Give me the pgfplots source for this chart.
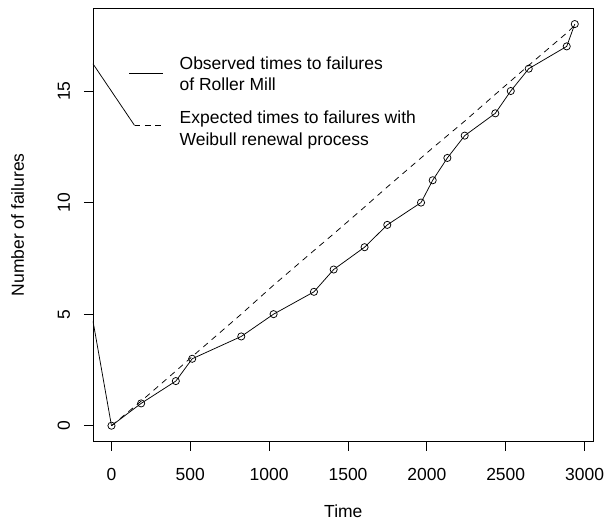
\documentclass[border=0pt]{standalone}
\usepackage{fontspec}
\setmainfont{Liberation Sans}
\usepackage{pgfplots}
\usepackage{pgfplotstable}
\pgfplotsset{compat=1.18}

% Cumulative failures of the roller mill at each observed failure time
\pgfplotstableread{
t     n
0     0
188   1
408   2
512   3
823   4
1028  5
1284  6
1409  7
1605  8
1749  9
1963  10
2037  11
2130  12
2240  13
2434  14
2532  15
2646  16
2887  17
2938  18
}\observed

% Expected number of failures under the fitted Weibull renewal process
\pgfplotstableread{
t     m
0     0
188   1.10
408   2.45
512   3.10
823   5.00
1028  6.30
1284  7.85
1409  8.60
1605  9.80
1749  10.70
1963  12.00
2037  12.45
2130  13.00
2240  13.65
2434  14.85
2532  15.45
2646  16.15
2887  17.60
2938  17.95
}\expected

\begin{document}
\begin{tikzpicture}[font=\fontsize{17.5bp}{21.5bp}\selectfont]
\begin{axis}[
  scale only axis,
  width=501bp, height=434bp,
  xmin=-117.5, xmax=3058,
  ymin=-0.72, ymax=18.72,
  axis line style={line width=0.8bp},
  tick align=outside,
  major tick length=9bp,
  tick style={black, line width=0.8bp},
  xtick={0,500,...,3000},
  ytick={0,5,10,15},
  xtick pos=bottom, ytick pos=left,
  scaled x ticks=false,
  /pgf/number format/assume math mode=true,
  /pgf/number format/set thousands separator={},
  xticklabel style={anchor=north, inner sep=0pt},
  xticklabel shift=17bp,
  yticklabel style={rotate=90, anchor=base, inner sep=0pt},
  yticklabel shift=14bp,
  xlabel={Time},
  ylabel={Number of failures},
  x label style={at={([yshift=-76bp]axis description cs:0.5,0)}, anchor=base, inner sep=0pt},
  y label style={at={([xshift=-69bp]axis description cs:0,0.5)}, anchor=base, rotate=0, inner sep=0pt},
]
  % expected curve
  \addplot[black, line width=0.75bp, dash pattern=on 6bp off 5bp] table[x=t, y=m] {\expected};
  % observed failures
  \addplot[black, line width=0.75bp, mark=o, mark size=3.6bp,
           mark options={solid, line width=0.75bp}] table[x=t, y=n] {\observed};
  % stray segments entering from the left edge
  \addplot[black, line width=0.75bp] coordinates {(-117.5,4.70) (0,0)};
  \addplot[black, line width=0.75bp] coordinates {(-117.5,16.22) (146,13.46)};
  % legend samples
  \addplot[black, line width=0.75bp] coordinates {(114,15.80) (324,15.80)};
  \addplot[black, line width=0.75bp, dash pattern=on 6bp off 4.5bp] coordinates {(146,13.46) (317,13.46)};
  \node[anchor=west, align=left, inner sep=0pt] at (axis cs:431,15.78)
    {Observed times to failures\\of Roller Mill};
  \node[anchor=west, align=left, inner sep=0pt] at (axis cs:431,13.26)
    {Expected times to failures with\\Weibull renewal process};
\end{axis}
\useasboundingbox ([shift={(-93bp,-89bp)}]current axis.south west)
  rectangle ([shift={(10bp,8bp)}]current axis.north east);
\end{tikzpicture}
\end{document}
